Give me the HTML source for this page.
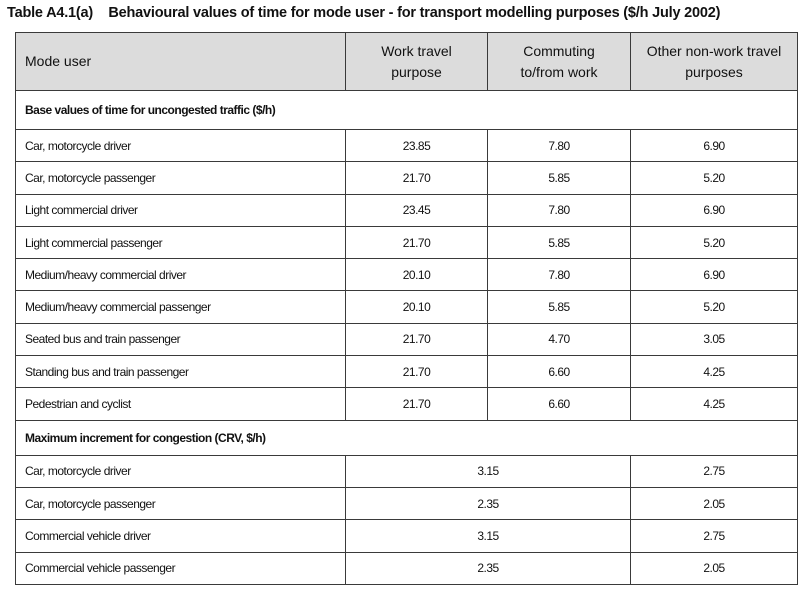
<!DOCTYPE html>
<html><head><meta charset="utf-8"><style>
body{margin:0;background:#fff;width:808px;height:595px;position:relative;font-family:"Liberation Sans",sans-serif;color:#111;overflow:hidden}
.title{position:absolute;left:7px;top:5px;font-size:14.5px;font-weight:bold;letter-spacing:-0.2px;white-space:nowrap}
table{position:absolute;left:15px;top:32px;border-collapse:collapse;width:782px;table-layout:fixed}
td{border:1px solid #3a3a3a;font-size:12px;letter-spacing:-0.5px;padding:0 0 0 9px;height:31.3px}
td.c{text-align:center;padding:0}
tr.h td{background:#dcdcdc;height:57px;font-size:14px;letter-spacing:0;line-height:21px}
tr.s td{font-weight:bold;height:38px}
tr.s2 td{font-weight:bold;height:34px}
</style></head><body>
<div class="title">Table A4.1(a)&nbsp;&nbsp;&nbsp; Behavioural values of time for mode user - for transport modelling purposes ($/h July 2002)</div>
<table>
<colgroup><col style="width:330px"><col style="width:142px"><col style="width:143px"><col style="width:167px"></colgroup>
<tr class="h"><td>Mode user</td><td class="c">Work travel<br>purpose</td><td class="c">Commuting<br>to/from work</td><td class="c">Other non-work travel<br>purposes</td></tr>
<tr class="s"><td colspan="4">Base values of time for uncongested traffic ($/h)</td></tr>
<tr><td>Car, motorcycle driver</td><td class="c">23.85</td><td class="c">7.80</td><td class="c">6.90</td></tr>
<tr><td>Car, motorcycle passenger</td><td class="c">21.70</td><td class="c">5.85</td><td class="c">5.20</td></tr>
<tr><td>Light commercial driver</td><td class="c">23.45</td><td class="c">7.80</td><td class="c">6.90</td></tr>
<tr><td>Light commercial passenger</td><td class="c">21.70</td><td class="c">5.85</td><td class="c">5.20</td></tr>
<tr><td>Medium/heavy commercial driver</td><td class="c">20.10</td><td class="c">7.80</td><td class="c">6.90</td></tr>
<tr><td>Medium/heavy commercial passenger</td><td class="c">20.10</td><td class="c">5.85</td><td class="c">5.20</td></tr>
<tr><td>Seated bus and train passenger</td><td class="c">21.70</td><td class="c">4.70</td><td class="c">3.05</td></tr>
<tr><td>Standing bus and train passenger</td><td class="c">21.70</td><td class="c">6.60</td><td class="c">4.25</td></tr>
<tr><td>Pedestrian and cyclist</td><td class="c">21.70</td><td class="c">6.60</td><td class="c">4.25</td></tr>
<tr class="s2"><td colspan="4">Maximum increment for congestion (CRV, $/h)</td></tr>
<tr><td>Car, motorcycle driver</td><td class="c" colspan="2">3.15</td><td class="c">2.75</td></tr>
<tr><td>Car, motorcycle passenger</td><td class="c" colspan="2">2.35</td><td class="c">2.05</td></tr>
<tr><td>Commercial vehicle driver</td><td class="c" colspan="2">3.15</td><td class="c">2.75</td></tr>
<tr><td>Commercial vehicle passenger</td><td class="c" colspan="2">2.35</td><td class="c">2.05</td></tr>
</table>
</body></html>
